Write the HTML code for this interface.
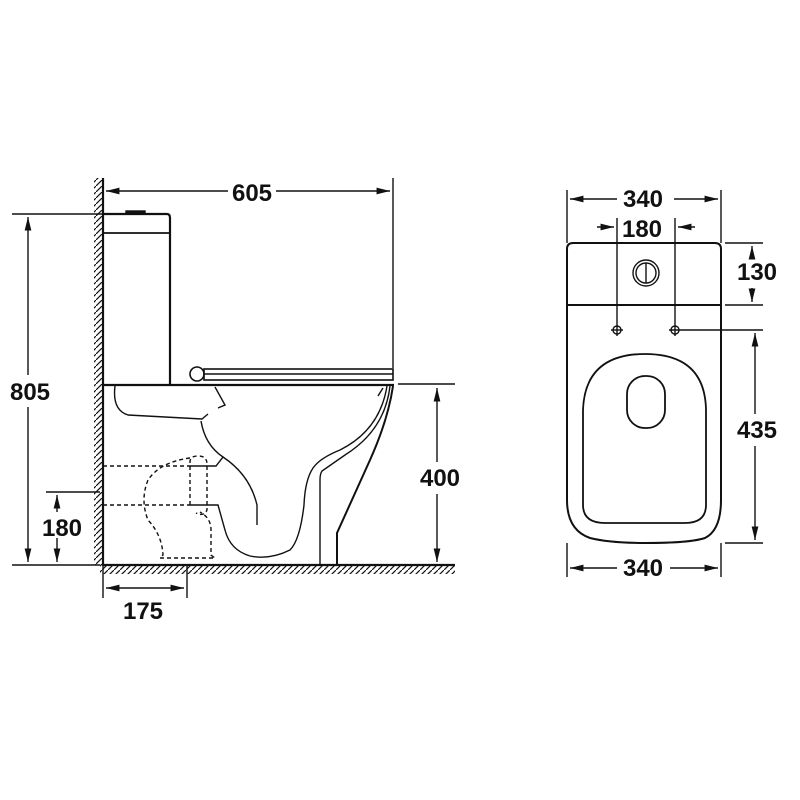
<!DOCTYPE html>
<html><head><meta charset="utf-8"><style>body{margin:0;background:#fff}svg{display:block}text{font-family:"Liberation Sans",sans-serif;font-weight:bold;font-size:24px;fill:#111}</style></head><body>
<svg width="800" height="800" viewBox="0 0 800 800" xmlns="http://www.w3.org/2000/svg">
<defs>
<pattern id="h" width="6" height="6" patternUnits="userSpaceOnUse"><path d="M-1 7 L7 -1" stroke="#111" stroke-width="1.2"/></pattern>
<marker id="a" viewBox="0 0 12 10" refX="12" refY="5" markerWidth="10" markerHeight="8" orient="auto-start-reverse"><path d="M0 2 L12 5 L0 8z" fill="#111"/></marker>
</defs>
<g stroke="#111" fill="none" stroke-width="1.4">
<rect x="94" y="178" width="9" height="387" fill="url(#h)" stroke="none"/>
<rect x="100" y="565" width="355" height="9" fill="url(#h)" stroke="none"/>
<line x1="103" y1="178" x2="103" y2="566" stroke-width="2.2"/>
<line x1="103" y1="565" x2="455" y2="565" stroke-width="2.2"/>
<path d="M103 214 H167 Q170 214 170 218 V384" stroke-width="2.2"/>
<line x1="103" y1="233" x2="170" y2="233" stroke-width="1.8"/>
<rect x="126" y="211" width="19" height="3" fill="#111"/>
<circle cx="197" cy="374" r="7" stroke-width="1.6"/>
<rect x="204" y="369" width="189" height="11" stroke-width="1.6"/>
<line x1="204" y1="374" x2="393" y2="374"/>
<line x1="103" y1="385" x2="394" y2="385" stroke-width="2.2"/>
<path d="M393 386 Q388 420 370 460 L337 533 V565" stroke-width="2"/>
<path d="M390 386 Q385 430 345 455 L322 471 Q320 474 320 480 V565"/>
<path d="M387 386 Q380 430 340 450 Q320 458 313 468 Q305 480 304 505 Q300 540 290 550 Q270 560 250 556 Q230 550 225 530 L218 505 H190"/>
<path d="M115 386 Q112 410 128 415 L202 419 L208 414"/>
<path d="M215 387 L225 405 L218 408"/>
<path d="M383 388 L378 396"/>
<path d="M201 421 Q205 445 223 457 L216 466 H190"/>
<path d="M223 457 Q250 475 257 505 L257 525"/>
<g stroke-dasharray="4 3">
<path d="M103 466 H190"/><path d="M103 505 H190"/>
<path d="M190 458 Q160 462 148 480 Q140 500 148 520 Q162 535 163 555 L160 558 H215 L211 555 V530 Q211 518 200 512"/>
<path d="M190 505 V462 Q190 456 198 456 Q207 456 207 464 V510 Q204 517 196 513"/>
</g>
<line x1="393" y1="178" x2="393" y2="368"/>
<line x1="106" y1="191" x2="228" y2="191" marker-start="url(#a)"/>
<line x1="276" y1="191" x2="390" y2="191" marker-end="url(#a)"/>
<line x1="12" y1="214" x2="103" y2="214"/>
<line x1="12" y1="565" x2="100" y2="565"/>
<line x1="28" y1="217" x2="28" y2="375" marker-start="url(#a)"/>
<line x1="28" y1="407" x2="28" y2="562" marker-end="url(#a)"/>
<line x1="46" y1="492" x2="100" y2="492"/>
<line x1="57" y1="495" x2="57" y2="512" marker-start="url(#a)"/>
<line x1="57" y1="538" x2="57" y2="562" marker-end="url(#a)"/>
<line x1="398" y1="384" x2="455" y2="384"/>
<line x1="437" y1="388" x2="437" y2="462" marker-start="url(#a)"/>
<line x1="437" y1="494" x2="437" y2="562" marker-end="url(#a)"/>
<line x1="103" y1="566" x2="103" y2="598"/>
<line x1="187" y1="566" x2="187" y2="598"/>
<line x1="106" y1="588" x2="184" y2="588" marker-start="url(#a)" marker-end="url(#a)"/>
<path d="M567 305 V249 Q567 243 573 243 H715 Q721 243 721 249 V305 Z" stroke-width="2"/>
<circle cx="646" cy="273" r="13"/><circle cx="646" cy="273" r="10"/>
<line x1="646" y1="263" x2="646" y2="283"/>
<path d="M567 305 V500 Q567 530 590 538 Q610 543 645 543 Q690 543 705 538 Q721 530 721 500 V305" stroke-width="2"/>
<path d="M583 410 Q585 354 645 354 Q705 354 706 410 V505 Q706 523 685 523 H605 Q583 523 583 505 Z" stroke-width="1.8"/>
<rect x="627" y="376" width="38" height="52" rx="18" stroke-width="1.8"/>
<circle cx="617" cy="330" r="4"/><circle cx="675" cy="330" r="4"/>
<line x1="611" y1="330" x2="623" y2="330"/>
<line x1="669" y1="330" x2="763" y2="330"/>
<line x1="617" y1="218" x2="617" y2="336"/>
<line x1="675" y1="218" x2="675" y2="336"/>
<line x1="567" y1="190" x2="567" y2="243"/><line x1="721" y1="190" x2="721" y2="243"/>
<line x1="570" y1="199" x2="617" y2="199" marker-start="url(#a)"/>
<line x1="674" y1="199" x2="718" y2="199" marker-end="url(#a)"/>
<line x1="597" y1="227" x2="614" y2="227" marker-end="url(#a)"/>
<line x1="695" y1="227" x2="678" y2="227" marker-end="url(#a)"/>
<line x1="725" y1="243" x2="763" y2="243"/><line x1="725" y1="305" x2="763" y2="305"/>
<line x1="752" y1="246" x2="752" y2="258" marker-start="url(#a)"/>
<line x1="752" y1="288" x2="752" y2="302" marker-end="url(#a)"/>
<line x1="725" y1="543" x2="763" y2="543"/>
<line x1="755" y1="333" x2="755" y2="414" marker-start="url(#a)"/>
<line x1="755" y1="446" x2="755" y2="540" marker-end="url(#a)"/>
<line x1="567" y1="543" x2="567" y2="577"/><line x1="721" y1="543" x2="721" y2="577"/>
<line x1="570" y1="568" x2="617" y2="568" marker-start="url(#a)"/>
<line x1="670" y1="568" x2="718" y2="568" marker-end="url(#a)"/>
</g>
<g text-anchor="middle">
<text x="252" y="201">605</text>
<text x="30" y="400">805</text>
<text x="62" y="536">180</text>
<text x="440" y="486">400</text>
<text x="143" y="619">175</text>
<text x="643" y="207">340</text>
<text x="642" y="237">180</text>
<text x="757" y="280">130</text>
<text x="757" y="438">435</text>
<text x="643" y="576">340</text>
</g>
</svg>
</body></html>
